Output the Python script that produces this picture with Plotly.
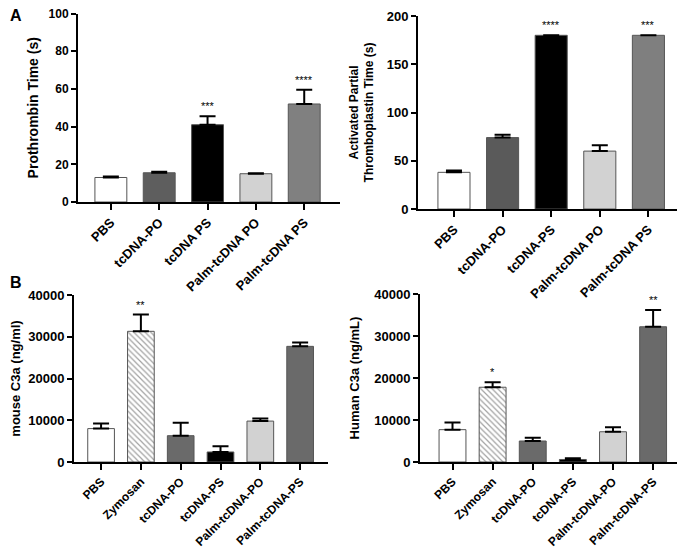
import plotly.graph_objects as go

# Panel A left: Prothrombin time
pt_cats = ["PBS", "tcDNA-PO", "tcDNA PS", "Palm-tcDNA PO", "Palm-tcDNA PS"]
pt_vals = [13, 15.5, 41, 15, 52]
pt_err = [0.5, 0.5, 4.5, 0.3, 7.5]
pt_stars = ["", "", "***", "", "****"]

# Panel A right: aPTT
aptt_cats = ["PBS", "tcDNA-PO", "tcDNA-PS", "Palm-tcDNA PO", "Palm-tcDNA PS"]
aptt_vals = [38, 74, 180, 60, 180]
aptt_err = [2, 3, 0, 6, 0]
aptt_stars = ["", "", "****", "", "***"]

# Panel B left: mouse C3a
c3_cats = ["PBS", "Zymosan", "tcDNA-PO", "tcDNA-PS", "Palm-tcDNA-PO", "Palm-tcDNA-PS"]
mouse_vals = [8000, 31300, 6300, 2400, 9800, 27700]
mouse_err = [1200, 4000, 3100, 1400, 600, 900]
mouse_stars = ["", "**", "", "", "", ""]

# Panel B right: human C3a
human_vals = [7700, 17800, 5000, 600, 7200, 32200]
human_err = [1700, 1200, 800, 300, 1100, 4000]
human_stars = ["", "*", "", "", "", "**"]

colA1 = ["#ffffff", "#5e5e5e", "#000000", "#d2d2d2", "#808080"]
colA2 = ["#ffffff", "#5a5a5a", "#000000", "#d2d2d2", "#7f7f7f"]
colB = ["#ffffff", "#ffffff", "#6a6a6a", "#000000", "#d2d2d2", "#6a6a6a"]
patB = ["", "\\", "", "", "", ""]

# the page body has an 8px default margin; the figure is sized to fill the rest
OFF = 8
W, H = 685 - OFF, 549 - OFF
def xd(a, b):
    return [(a - OFF) / W, (b - OFF) / W]
def yd(top, bot):
    return [(H - (bot - OFF)) / H, (H - (top - OFF)) / H]

FONT = "Liberation Sans, Arial, sans-serif"

fig = go.Figure()

panels = [
    dict(ax="", cats=pt_cats, vals=pt_vals, err=pt_err, stars=pt_stars, cols=colA1, pat=None,
         xdom=xd(78, 340), ydom=yd(13.5, 202), xr=[-0.68, 4.74], yr=[0, 100], dt=20,
         title="Prothrombin Time (s)", tsize=14, standoff=7, width=0.66, tf=12, xf=13),
    dict(ax="2", cats=aptt_cats, vals=aptt_vals, err=aptt_err, stars=aptt_stars, cols=colA2, pat=None,
         xdom=xd(418, 680), ydom=yd(16, 209), xr=[-0.74, 4.65], yr=[0, 200], dt=50,
         title="Activated Partial<br>Thromboplastin Time (s)", tsize=12, standoff=10, width=0.66, tf=13, xf=13),
    dict(ax="3", cats=c3_cats, vals=mouse_vals, err=mouse_err, stars=mouse_stars, cols=colB, pat=patB,
         xdom=xd(74, 328), ydom=yd(295, 462), xr=[-0.68, 5.70], yr=[0, 40000], dt=10000,
         title="mouse C3a (ng/ml)", tsize=13, standoff=15, width=0.67, tf=13, xf=12),
    dict(ax="4", cats=c3_cats, vals=human_vals, err=human_err, stars=human_stars, cols=colB, pat=patB,
         xdom=xd(420, 680), ydom=yd(294, 462), xr=[-0.81, 5.67], yr=[0, 40000], dt=10000,
         title="Human C3a (ng/mL)", tsize=13, standoff=12, width=0.67, tf=13, xf=12),
]

annotations = []
for p in panels:
    xa = "x" + p["ax"]
    ya = "y" + p["ax"]
    n = len(p["cats"])
    marker = dict(color=p["cols"], line=dict(color="#555555", width=1))
    if p["pat"]:
        marker["pattern"] = dict(shape=p["pat"], fgcolor="#505050", bgcolor="#ffffff",
                                 size=4, solidity=0.3, fillmode="overlay")
    fig.add_trace(go.Bar(
        x=list(range(n)), y=p["vals"], width=p["width"], marker=marker,
        error_y=dict(type="data", symmetric=False, array=p["err"], arrayminus=[0] * n,
                     color="black", thickness=2, width=8),
        xaxis=xa, yaxis=ya, showlegend=False,
    ))
    for i, s in enumerate(p["stars"]):
        if s:
            annotations.append(dict(x=i, y=p["vals"][i] + p["err"][i], xref=xa, yref=ya,
                                    text=s, showarrow=False, yanchor="bottom", yshift=2,
                                    font=dict(size=11, color="black", family=FONT)))
    kx = "xaxis" + p["ax"]
    ky = "yaxis" + p["ax"]
    fig.layout[kx] = dict(domain=p["xdom"], anchor=ya, range=p["xr"], tickmode="array",
                          tickvals=list(range(n)), ticktext=p["cats"], tickangle=-45,
                          automargin=False, ticklabeloverflow="allow",
                          showline=True, linecolor="black", linewidth=2, ticks="outside",
                          ticklen=6, tickwidth=1.5, tickcolor="black", showgrid=False,
                          zeroline=False,
                          tickfont=dict(size=p["xf"], family=FONT, color="black", weight="bold"))
    fig.layout[ky] = dict(domain=p["ydom"], anchor=xa, range=p["yr"], dtick=p["dt"],
                          tickformat="d", automargin=False, ticklabeloverflow="allow",
                          showline=True, linecolor="black", linewidth=2, ticks="outside",
                          ticklen=5, tickwidth=1.5, tickcolor="black", showgrid=False,
                          zeroline=False,
                          tickfont=dict(size=p["tf"], family=FONT, color="black", weight="bold"),
                          title=dict(text=p["title"], standoff=p["standoff"],
                                     font=dict(size=p["tsize"], family=FONT, color="black", weight="bold")))

annotations.append(dict(x=0, y=1 - (16 - OFF) / H, xref="paper", yref="paper", text="A",
                        xanchor="left", yanchor="middle",
                        showarrow=False, font=dict(size=16, family=FONT, color="black", weight="bold")))
annotations.append(dict(x=0, y=1 - (282 - OFF) / H, xref="paper", yref="paper", text="B",
                        xanchor="left", yanchor="middle",
                        showarrow=False, font=dict(size=16, family=FONT, color="black", weight="bold")))

fig.update_layout(width=W, height=H, margin=dict(l=0, r=0, t=0, b=0, autoexpand=False),
                  plot_bgcolor="white", paper_bgcolor="white",
                  annotations=annotations, bargap=0.3)

fig.write_html("out.html")
